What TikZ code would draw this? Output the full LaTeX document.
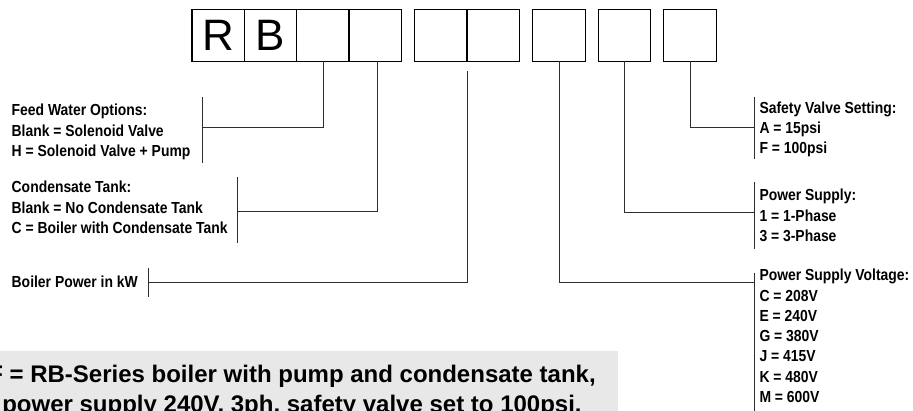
\documentclass[tikz,border=0pt]{standalone}
\usepackage{fontspec}
\setmainfont{Liberation Sans}
\newfontfamily\lblfont[FakeStretch=0.87]{Liberation Sans}
\definecolor{boxgray}{RGB}{232,232,232}
\definecolor{linegray}{RGB}{45,45,45}
\begin{document}
\begin{tikzpicture}[x=1pt,y=-1pt,
  cell/.style={draw=black,line width=1.2pt,minimum width=52.5pt,minimum height=52pt,inner sep=0pt,outer sep=0pt,font=\fontsize{44}{44}\selectfont},
  conn/.style={draw=linegray,line width=0.9pt},
  brk/.style={draw=linegray,line width=0.9pt},
  lbl/.style={inner sep=0pt,outer sep=0pt,align=left,font=\lblfont\bfseries\fontsize{16}{20.5}\selectfont},
  rlbl/.style={inner sep=0pt,outer sep=0pt,align=left,font=\lblfont\bfseries\fontsize{16}{20.3}\selectfont},
  note/.style={inner sep=0pt,outer sep=0pt,align=center,font=\bfseries\fontsize{24}{30}\selectfont}]
\useasboundingbox (0,0) rectangle (913,410);
\clip (0,0) rectangle (913,410);

% code boxes
\node[cell] (c1) at (218.15,35.3) {R};
\node[cell] (c2) at (270.5,35.3) {B};
\node[cell] (c3) at (323,35.3) {};
\node[cell] (c4) at (375.3,35.3) {};
\node[cell] (c5) at (441,35.3) {};
\node[cell] (c6) at (493.3,35.3) {};
\node[cell] (c7) at (559,35.3) {};
\node[cell] (c8) at (624.35,35.3) {};
\node[cell] (c9) at (690,35.3) {};

% bracket coordinates
\coordinate (fwT) at (202,97.3);   \coordinate (fwB) at (202,162.7);   \coordinate (fw) at (202,127.7);
\coordinate (ctT) at (237.7,177.3); \coordinate (ctB) at (237.7,243.3); \coordinate (ct) at (237.7,211.7);
\coordinate (bpT) at (148.7,268.3); \coordinate (bpB) at (148.7,296.7); \coordinate (bp) at (148.7,282.3);
\coordinate (svT) at (754.3,96.7);  \coordinate (svB) at (754.3,159.3); \coordinate (sv) at (754.3,127.5);
\coordinate (psT) at (754.3,182.3); \coordinate (psB) at (754.3,249);   \coordinate (ps) at (754.3,212.3);
\coordinate (pvT) at (754.3,272.7); \coordinate (pvB) at (754.3,415);   \coordinate (pv) at (754.3,282.5);
\coordinate (bpS) at (467.3,71);

% brackets
\draw[brk] (fwT) -- (fwB);
\draw[brk] (ctT) -- (ctB);
\draw[brk] (bpT) -- (bpB);
\draw[brk] (svT) -- (svB);
\draw[brk] (psT) -- (psB);
\draw[brk] (pvT) -- (pvB);

% connectors
\draw[conn] (c3.south) |- (fw);
\draw[conn] ([xshift=2.4pt]c4.south) |- (ct);
\draw[conn] (bpS) |- (bp);
\draw[conn] (c7.south) |- (pv);
\draw[conn] (c8.south) |- (ps);
\draw[conn] (c9.south) |- (sv);

% labels
\node[lbl,anchor=north west] (fwl) at (11.7,104.1) {Feed Water Options:\\Blank = Solenoid Valve\\H = Solenoid Valve + Pump};
\node[lbl,anchor=north west] (ctl) at (11.7,181.4) {Condensate Tank:\\Blank = No Condensate Tank\\C = Boiler with Condensate Tank};
\node[lbl,anchor=north west] (bpl) at (11.7,276.1) {Boiler Power in kW};
\node[rlbl,anchor=north west] (svl) at (759.5,101.8) {Safety Valve Setting:\\A = 15psi\\F = 100psi};
\node[rlbl,anchor=north west] (psl) at (759.5,189.4) {Power Supply:\\1 = 1-Phase\\3 = 3-Phase};
\node[rlbl,anchor=north west] (pvl) at (759.5,269.1) {Power Supply Voltage:\\C = 208V\\E = 240V\\G = 380V\\J = 415V\\K = 480V\\M = 600V};

% example note
\node[fill=boxgray,inner sep=0pt,outer sep=0pt,minimum width=660pt,minimum height=70pt,anchor=north east] (notebox) at (618.3,351) {};
\node[note,anchor=base] (note1) at (292,382) {F = RB-Series boiler with pump and condensate tank,};
\node[note,anchor=base] (note2) at (292,412) {power supply 240V, 3ph, safety valve set to 100psi.};
\end{tikzpicture}
\end{document}
